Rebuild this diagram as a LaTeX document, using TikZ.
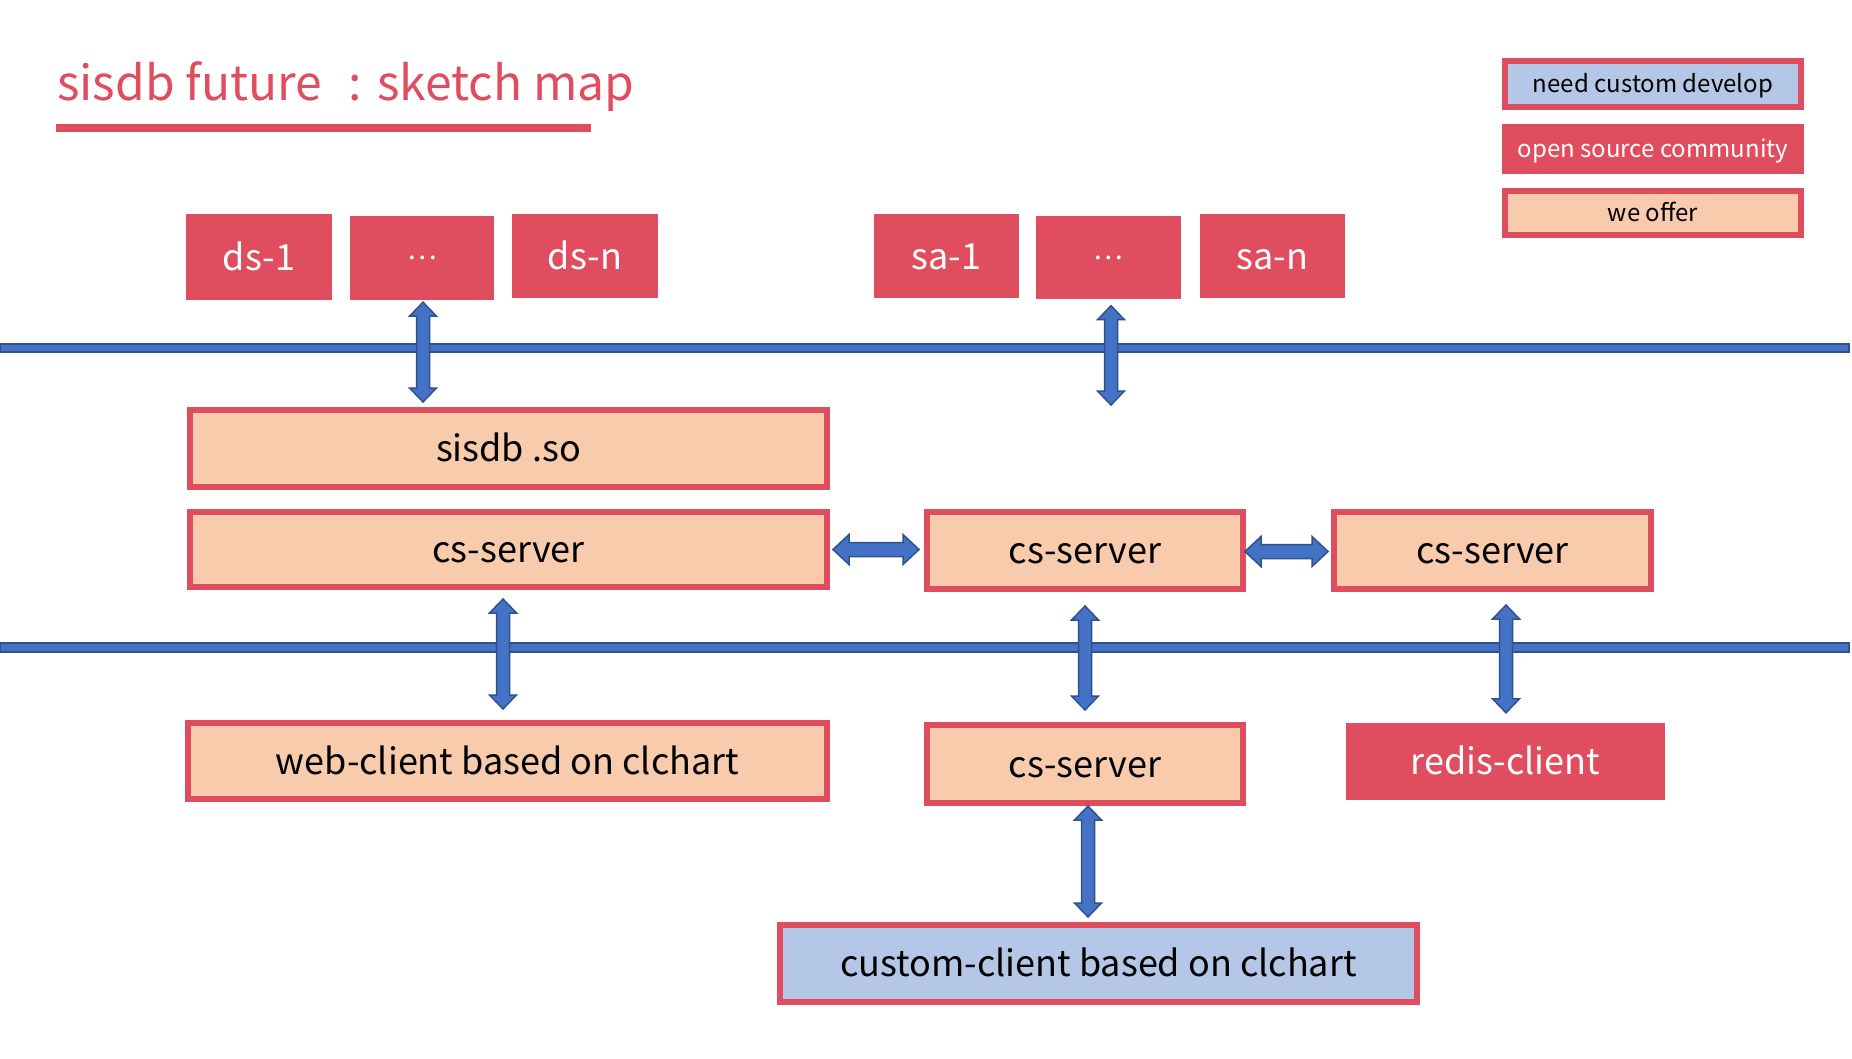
\documentclass[tikz,border=0pt]{standalone}
\usepackage{fontspec}
\setmainfont{Noto Sans CJK SC}
\usetikzlibrary{calc}
\definecolor{pptred}{HTML}{DF4D5E}
\definecolor{peach}{HTML}{F8CBAD}
\definecolor{lblue}{HTML}{B4C7E7}
\definecolor{afill}{HTML}{4472C4}
\definecolor{adraw}{HTML}{2F528F}
\tikzset{
  mainfont/.style={font=\fontsize{36}{40}\selectfont, text height=26pt, text depth=0pt},
  redbox/.style={fill=pptred, text=white, inner sep=0pt, mainfont},
  offerbox/.style={fill=peach, draw=pptred, line width=6pt, inner sep=0pt, text=black, mainfont},
  custbox/.style={fill=lblue, draw=pptred, line width=6pt, inner sep=0pt, text=black, mainfont},
  legfont/.style={font=\fontsize{24}{26}\selectfont, text height=17pt, text depth=0pt},
  dotsfont/.style={font=\fontsize{28}{30}\selectfont, text height=, text depth=},
  barrow/.style={fill=afill, draw=adraw, line width=1.5pt, line join=miter},
  busline/.style={fill=afill, draw=adraw, line width=1.5pt}
}
% vertical double block arrow: #1 top tip, #2 bottom tip (x from #1)
\newcommand\vdarrow[2]{%
  \path[barrow] let \p1=(#1), \p2=(#2) in
   (\x1,\y1) -- (\x1+13.5pt,\y1-14pt) -- (\x1+6.5pt,\y1-14pt) -- (\x1+6.5pt,\y2+14pt)
   -- (\x1+13.5pt,\y2+14pt) -- (\x1,\y2) -- (\x1-13.5pt,\y2+14pt) -- (\x1-6.5pt,\y2+14pt)
   -- (\x1-6.5pt,\y1-14pt) -- (\x1-13.5pt,\y1-14pt) -- cycle;}
% horizontal double block arrow: #1 left tip, #2 right tip (y from #1)
\newcommand\hdarrow[2]{%
  \path[barrow] let \p1=(#1), \p2=(#2) in
   (\x1,\y1) -- (\x1+16pt,\y1+15pt) -- (\x1+16pt,\y1+7pt) -- (\x2-16pt,\y1+7pt)
   -- (\x2-16pt,\y1+15pt) -- (\x2,\y1) -- (\x2-16pt,\y1-15pt) -- (\x2-16pt,\y1-7pt)
   -- (\x1+16pt,\y1-7pt) -- (\x1+16pt,\y1-15pt) -- cycle;}
\begin{document}
\begin{tikzpicture}[x=1pt,y=1pt]
\fill[white] (0,0) rectangle (1852,-1058);
\useasboundingbox (0,0) rectangle (1852,-1058);

% title
\node[anchor=base west, inner sep=0pt, text=pptred, font=\fontsize{48}{52}\selectfont] (title) at (57,-100) {sisdb future\hspace{26pt}:\hspace{16pt}sketch map};
\fill[pptred] (56,-124) rectangle (591,-132);

% legend
\node[custbox, legfont, minimum width=296pt, minimum height=46pt] (lg1) at (1653,-84) {need custom develop};
\node[redbox, legfont, minimum width=302pt, minimum height=50pt] (lg2) at (1653,-149) {open source community};
\node[offerbox, legfont, minimum width=296pt, minimum height=44pt] (lg3) at (1653,-213) {we offer};

% top sources
\node[redbox, minimum width=146pt, minimum height=86pt] (ds1) at (259,-257) {ds-1};
\node[redbox, dotsfont, minimum width=144pt, minimum height=84pt] (dotsA) at (422,-258) {…};
\node[redbox, minimum width=146pt, minimum height=84pt] (dsn) at (585,-256) {ds-n};
\node[redbox, minimum width=145pt, minimum height=84pt] (sa1) at (946.5,-256) {sa-1};
\node[redbox, dotsfont, minimum width=145pt, minimum height=83pt] (dotsB) at (1108.5,-257.5) {…};
\node[redbox, minimum width=145pt, minimum height=84pt] (san) at (1272.5,-256) {sa-n};

% bus lines
\path[busline] (0,-344) rectangle (1849,-352);
\path[busline] (0,-643) rectangle (1849,-652);

% middle row
\node[offerbox, minimum width=637pt, minimum height=77pt] (sisdb) at (508.5,-448.5) {sisdb .so};
\node[offerbox, minimum width=637pt, minimum height=75pt] (csL) at (508.5,-549.5) {cs-server};
\node[offerbox, minimum width=316pt, minimum height=77pt] (csM) at (1085,-550.5) {cs-server};
\node[offerbox, minimum width=317pt, minimum height=77pt] (csR) at (1492.5,-550.5) {cs-server};

% bottom row
\node[offerbox, minimum width=639pt, minimum height=76pt] (web) at (507.5,-761) {web-client based on clchart};
\node[offerbox, minimum width=316pt, minimum height=78pt] (csB) at (1085,-764) {cs-server};
\node[redbox, minimum width=319pt, minimum height=77pt] (redis) at (1505.5,-761.5) {redis-client};
\node[custbox, minimum width=637pt, minimum height=77pt] (custom) at (1098.5,-963.5) {custom-client based on clchart};

% free end
\coordinate (saend) at (1111,-405);

% arrows
\vdarrow{$(dotsA.south)+(1,-2)$}{$(sisdb.north)+(0,5)$}
\vdarrow{$(dotsB.south)+(2.5,-6.5)$}{saend}
\hdarrow{$(csL.east)+(3,0)$}{$(csM.west)+(-5,0)$}
\hdarrow{$(csM.east)+(-1,-1)$}{$(csR.west)+(-3,0)$}
\vdarrow{$(csL.south)+(-5.5,-9)$}{$(web.north)+(0,11)$}
\vdarrow{$(csM.south)+(0,-14)$}{$(csB.north)+(0,12)$}
\vdarrow{$(csR.south)+(13.5,-13)$}{$(redis.north)+(0,10)$}
\vdarrow{$(csB.south)+(3,0)$}{$(custom.north)+(0,5)$}
\end{tikzpicture}
\end{document}
